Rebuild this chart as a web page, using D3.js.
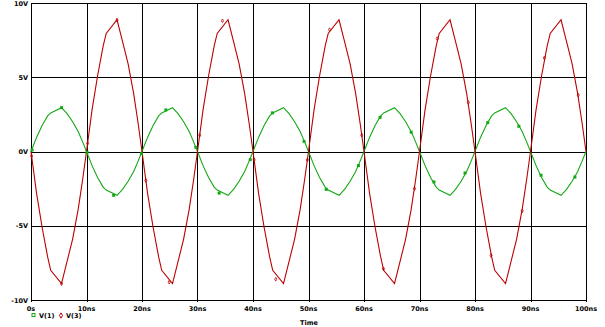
<!DOCTYPE html>
<html><head><meta charset="utf-8">
<script src="https://cdn.jsdelivr.net/npm/d3@7"></script>
<style>
html,body{margin:0;padding:0;background:#fff;}
svg{display:block;}
text{font-family:"DejaVu Sans",sans-serif;font-size:6.5px;font-weight:bold;fill:#000;}
</style></head>
<body>
<svg id="chart" width="605" height="327"></svg>
<script>
// ---- data ----
const timeNs = [
  0, 1, 2, 3, 3.55, 5.5, 6.5, 7.5, 8.5, 9.3, 10, 11, 12, 13, 13.55, 15.5, 16.5, 17.5, 18.5, 19.3,
  20, 21, 22, 23, 23.55, 25.5, 26.5, 27.5, 28.5, 29.3, 30, 31, 32, 33, 33.55, 35.5, 36.5, 37.5, 38.5, 39.3,
  40, 41, 42, 43, 43.55, 45.5, 46.5, 47.5, 48.5, 49.3, 50, 51, 52, 53, 53.55, 55.5, 56.5, 57.5, 58.5, 59.3,
  60, 61, 62, 63, 63.55, 65.5, 66.5, 67.5, 68.5, 69.3, 70, 71, 72, 73, 73.55, 75.5, 76.5, 77.5, 78.5, 79.3,
  80, 81, 82, 83, 83.55, 85.5, 86.5, 87.5, 88.5, 89.3, 90, 91, 92, 93, 93.55, 95.5, 96.5, 97.5, 98.5, 99.3,
  100
];
const v1 = [
  0, 0.95, 1.75, 2.4, 2.6, 2.95, 2.55, 2.0, 1.35, 0.65, 0, -0.95, -1.75, -2.4, -2.6, -2.95, -2.55, -2.0, -1.35, -0.65,
  0, 0.95, 1.75, 2.4, 2.6, 2.95, 2.55, 2.0, 1.35, 0.65, 0, -0.95, -1.75, -2.4, -2.6, -2.95, -2.55, -2.0, -1.35, -0.65,
  0, 0.95, 1.75, 2.4, 2.6, 2.95, 2.55, 2.0, 1.35, 0.65, 0, -0.95, -1.75, -2.4, -2.6, -2.95, -2.55, -2.0, -1.35, -0.65,
  0, 0.95, 1.75, 2.4, 2.6, 2.95, 2.55, 2.0, 1.35, 0.65, 0, -0.95, -1.75, -2.4, -2.6, -2.95, -2.55, -2.0, -1.35, -0.65,
  0, 0.95, 1.75, 2.4, 2.6, 2.95, 2.55, 2.0, 1.35, 0.65, 0, -0.95, -1.75, -2.4, -2.6, -2.95, -2.55, -2.0, -1.35, -0.65,
  0
];
const v3 = [
  0, -2.8, -5.1, -7.1, -8.0, -8.9, -7.4, -5.9, -3.9, -1.9, 0, 2.8, 5.1, 7.1, 7.95, 8.87, 7.4, 5.9, 3.9, 1.9,
  0, -2.8, -5.1, -7.1, -8.0, -8.9, -7.4, -5.9, -3.9, -1.9, 0, 2.8, 5.1, 7.1, 7.95, 8.87, 7.4, 5.9, 3.9, 1.9,
  0, -2.8, -5.1, -7.1, -8.0, -8.9, -7.4, -5.9, -3.9, -1.9, 0, 2.8, 5.1, 7.1, 7.95, 8.87, 7.4, 5.9, 3.9, 1.9,
  0, -2.8, -5.1, -7.1, -8.0, -8.9, -7.4, -5.9, -3.9, -1.9, 0, 2.8, 5.1, 7.1, 7.95, 8.87, 7.4, 5.9, 3.9, 1.9,
  0, -2.8, -5.1, -7.1, -8.0, -8.9, -7.4, -5.9, -3.9, -1.9, 0, 2.8, 5.1, 7.1, 7.95, 8.87, 7.4, 5.9, 3.9, 1.9,
  0
];
// marker positions
const markT1 = [0.2, 5.5, 10.1, 14.9, 19.9, 24.3, 29.7, 33.9, 39.5, 43.5, 49.2, 53.2, 59.0, 62.9, 68.5, 72.6, 78.2, 82.3, 87.9, 91.9, 98.0];
const markV1 = [0.1, 2.95, -0.05, -2.95, -0.15, 2.8, 0.28, -2.8, -0.55, 2.6, 0.68, -2.55, -0.95, 2.3, 1.3, -2.05, -1.45, 1.95, 1.7, -1.6, -1.72];
const markT3 = [0.1, 5.5, 10.2, 15.5, 20.7, 24.9, 30.4, 34.5, 40.2, 44.1, 49.8, 53.8, 59.6, 63.5, 69.1, 73.2, 78.8, 82.9, 88.5, 92.5, 98.6];
const markV3 = [-0.3, -8.9, 0.55, 8.85, -1.95, -8.8, 1.1, 8.8, -0.56, -8.6, -0.56, 8.2, 1.1, -7.9, -2.5, 7.6, 3.3, -7.0, -4.0, 6.3, 3.8];

const xTicks = [0, 10, 20, 30, 40, 50, 60, 70, 80, 90, 100];
const xTickLabels = ["0s", "10ns", "20ns", "30ns", "40ns", "50ns", "60ns", "70ns", "80ns", "90ns", "100ns"];
const yTicks = [10, 5, 0, -5, -10];
const yTickLabels = ["10V", "5V", "0V", "-5V", "-10V"];
const seriesNames = ["V(1)", "V(3)"];
const seriesColors = ["#14a814", "#bb0000"];

// ---- drawing ----
const svg = d3.select("#chart");
const L = 31, R = 586, T = 3, B = 300;
const x = d3.scaleLinear().domain([0, 100]).range([L, R]);
const y = d3.scaleLinear().domain([-10, 10]).range([B, T]);

const grid = svg.append("g").attr("shape-rendering", "crispEdges");
grid.selectAll("line.v").data(xTicks).join("line")
  .attr("x1", d => Math.round(x(d)) + 0.5).attr("x2", d => Math.round(x(d)) + 0.5)
  .attr("y1", T).attr("y2", B + 2).attr("stroke", "#000").attr("stroke-width", 1);
grid.selectAll("line.h").data(yTicks).join("line")
  .attr("x1", L).attr("x2", R + 1)
  .attr("y1", d => Math.round(y(d)) + 0.5).attr("y2", d => Math.round(y(d)) + 0.5)
  .attr("stroke", "#000").attr("stroke-width", 1);

svg.append("g").selectAll("text").data(yTicks).join("text")
  .attr("x", L - 3).attr("y", d => y(d) + 2.5).attr("text-anchor", "end")
  .text((d, i) => yTickLabels[i]);
svg.append("g").selectAll("text").data(xTicks).join("text")
  .attr("x", d => x(d)).attr("y", B + 10.5).attr("text-anchor", "middle")
  .text((d, i) => xTickLabels[i]);
svg.append("text").attr("x", 309).attr("y", 324.5).attr("text-anchor", "middle").text("Time");

const line = d3.line().x(d => x(d[0])).y(d => y(d[1]));
const s1 = timeNs.map((t, i) => [t, v1[i]]);
const s3 = timeNs.map((t, i) => [t, v3[i]]);
svg.append("path").datum(s1).attr("d", line).attr("fill", "none")
  .attr("stroke", seriesColors[0]).attr("stroke-width", 1.1);
svg.append("path").datum(s3).attr("d", line).attr("fill", "none")
  .attr("stroke", seriesColors[1]).attr("stroke-width", 1.1);

// markers
svg.append("g").selectAll("rect").data(markT1.map((t, i) => [t, markV1[i]])).join("rect")
  .attr("x", d => x(d[0]) - 1.5).attr("y", d => y(d[1]) - 1.5)
  .attr("width", 3).attr("height", 3).attr("fill", seriesColors[0]);
const diamond = d3.symbol().type(d3.symbolDiamond).size(4);
svg.append("g").selectAll("path").data(markT3.map((t, i) => [t, markV3[i]])).join("path")
  .attr("d", diamond).attr("transform", d => `translate(${x(d[0])},${y(d[1])})`)
  .attr("fill", "none").attr("stroke", seriesColors[1]).attr("stroke-width", 0.8);

// legend
const leg = svg.append("g");
leg.append("rect").attr("x", 32).attr("y", 313.5).attr("width", 3).attr("height", 3)
  .attr("fill", "none").attr("stroke", seriesColors[0]).attr("stroke-width", 1);
leg.append("text").attr("x", 39).attr("y", 318).text(seriesNames[0]);
leg.append("path").attr("d", d3.symbol().type(d3.symbolDiamond).size(8))
  .attr("transform", "translate(61,315.5)").attr("fill", "none")
  .attr("stroke", seriesColors[1]).attr("stroke-width", 1);
leg.append("text").attr("x", 66).attr("y", 318).text(seriesNames[1]);
</script>
</body></html>
